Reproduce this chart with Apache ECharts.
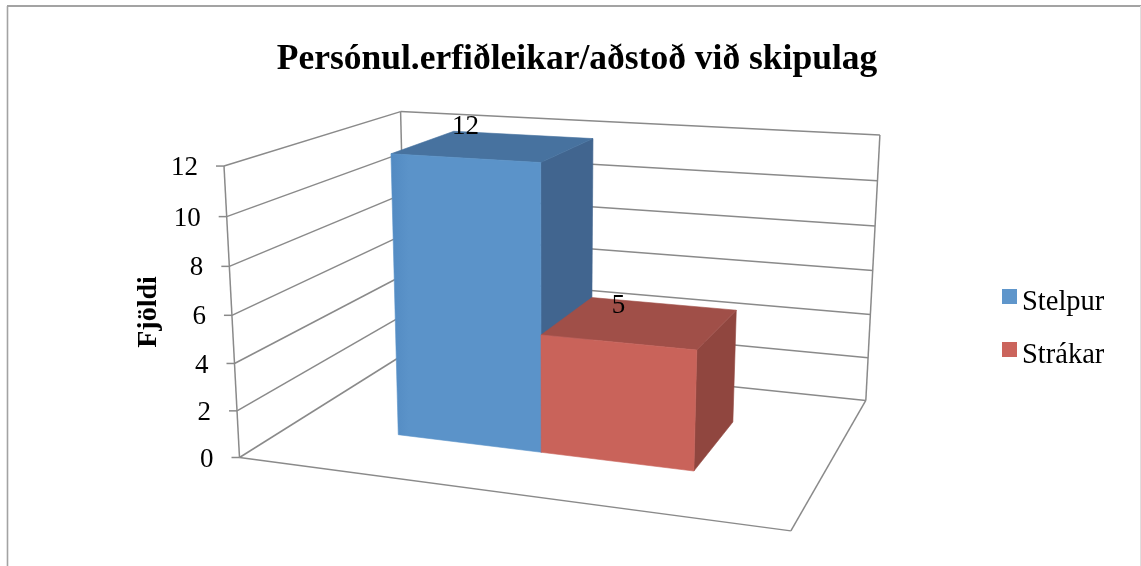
<!DOCTYPE html>
<html>
<head>
<meta charset="utf-8">
<style>html,body{margin:0;padding:0;background:#fff}#c{width:1141px;height:566px}</style>
<script src="https://cdn.jsdelivr.net/npm/echarts@6/dist/echarts.min.js"></script>
</head>
<body>
<div id="c"></div>
<script>
const chartTitle = 'Persónul.erfiðleikar/aðstoð við skipulag';
const yAxisTitle = 'Fjöldi';
const categories = ['Persónul.erfiðleikar/aðstoð við skipulag'];
const seriesNames = ['Stelpur', 'Strákar'];
const stelpur = [12];
const strakar = [5];
const tickValues = [0, 2, 4, 6, 8, 10, 12];

const FONT = '"Liberation Serif", serif';
const TEXT = '#000';
const LINE = '#8a8a8a';
const palette = [
  {front: '#5b93c9', frontDark: '#528ac2', top: '#47729f', side: '#41658f', legend: '#5f96cb'},
  {front: '#c9635a', frontDark: '#c9635a', top: '#a04f48', side: '#90463f', legend: '#cb645c'}
];

// Perspective of the 3D box: x, y, z in 0..1 of the plot box -> screen.
function project(x, y, z) {
  const w = 1 - 0.1163 * x - 0.0473 * y + 0.2193 * z;
  return [
    (239.5 + 459.4 * x - 26.1 * y + 256.1 * z) / w,
    (457.5 + 11.63 * x - 299.3 * y - 27.4 * z) / w
  ];
}
const DEPTH_FRONT = 0.295, DEPTH_BACK = 0.693, BAR_SHARE = 0.2845;
const LABEL_LIFT = [31, 36];

function yShare(api, params, v) {
  const cs = params.coordSys;
  return (cs.y + cs.height - api.coord([0, v])[1]) / cs.height;
}
function seg(a, b) {
  return {type: 'line', silent: true, shape: {x1: a[0], y1: a[1], x2: b[0], y2: b[1]},
    style: {stroke: LINE, lineWidth: 1.5, fill: null}};
}
function poly(points, fill, edge) {
  return {type: 'polygon', silent: true, shape: {points},
    style: {fill, stroke: edge || fill, lineWidth: 0.6}};
}

function renderFrame(params, api) {
  const v = api.value(1);
  const y = yShare(api, params, v);
  const a = project(0, y, 0), b = project(0, y, 1), c = project(1, y, 1);
  const kids = [seg([a[0] - 8, a[1]], a), seg(a, b), seg(b, c)];
  if (params.dataIndex === 0) {
    const y1 = 1;
    kids.push(seg(project(0, 0, 0), project(0, y1, 0)));
    kids.push(seg(project(0, 0, 1), project(0, y1, 1)));
    kids.push(seg(project(1, 0, 1), project(1, y1, 1)));
    kids.push(seg(project(0, 0, 0), project(1, 0, 0)));
    kids.push(seg(project(1, 0, 0), project(1, 0, 1)));
  }
  kids.push({type: 'text', silent: true, style: {
    text: String(v), x: a[0] - 26, y: a[1] + 2, align: 'right', verticalAlign: 'middle',
    fill: TEXT, fontFamily: FONT, fontSize: 27}});
  return {type: 'group', children: kids};
}

function barRenderer(idx) {
  return function (params, api) {
    const cs = params.coordSys;
    const cat = api.value(0), v = api.value(1);
    const cx = (api.coord([cat, 0])[0] - cs.x) / cs.width;
    const x0 = cx + (idx - 1) * BAR_SHARE, x1 = x0 + BAR_SHARE;
    const y = yShare(api, params, v);
    const z0 = DEPTH_FRONT, z1 = DEPTH_BACK;
    const c = palette[idx];
    const p = (a, b, d) => project(a, b, d);
    const label = p((x0 + x1) / 2, y, z0);
    return {type: 'group', children: [
      poly([p(x1, 0, z0), p(x1, 0, z1), p(x1, y, z1), p(x1, y, z0)], c.side),
      poly([p(x0, y, z0), p(x1, y, z0), p(x1, y, z1), p(x0, y, z1)], c.top),
      poly([p(x0, 0, z0), p(x1, 0, z0), p(x1, y, z0), p(x0, y, z0)], {
        type: 'linear', x: 0, y: 0, x2: 1, y2: 0,
        colorStops: [{offset: 0, color: c.frontDark}, {offset: 0.12, color: c.front}, {offset: 1, color: c.front}]
      }, c.front),
      {type: 'text', silent: true, style: {
        text: String(v), x: label[0] + 1, y: label[1] - LABEL_LIFT[idx], align: 'center', verticalAlign: 'middle',
        fill: TEXT, fontFamily: FONT, fontSize: 27}}
    ]};
  };
}

const chart = echarts.init(document.getElementById('c'), null, {renderer: 'canvas'});
chart.setOption({
  animation: false,
  backgroundColor: '#fff',
  title: {
    text: chartTitle, left: 572, top: 37, textAlign: 'center',
    textStyle: {fontFamily: FONT, fontSize: 35.5, fontWeight: 'bold', color: TEXT}
  },
  legend: {
    data: seriesNames, orient: 'vertical', left: 997, top: 283, icon: 'rect',
    itemWidth: 15, itemHeight: 15, itemGap: 24, selectedMode: false,
    formatter: name => '{a|' + name + '}',
    textStyle: {
      fontFamily: FONT, fontSize: 28.5, color: TEXT,
      rich: {a: {fontFamily: FONT, fontSize: 28.5, color: TEXT, padding: [12, 0, 0, 0]}}
    }
  },
  grid: {left: 224, top: 166, width: 640, height: 292},
  xAxis: {type: 'category', data: categories, show: false},
  yAxis: {
    type: 'value', min: 0, max: 12, interval: 2,
    name: yAxisTitle, nameLocation: 'middle', nameGap: 61, nameRotate: 90,
    nameTextStyle: {fontFamily: FONT, fontSize: 28, fontWeight: 'bold', color: TEXT},
    axisLine: {show: false}, axisTick: {show: false}, axisLabel: {show: false}, splitLine: {show: false}
  },
  graphic: [
    {type: 'line', silent: true, shape: {x1: 7.5, y1: 6, x2: 7.5, y2: 566}, style: {stroke: '#a3a3a3', lineWidth: 1.6}},
    {type: 'line', silent: true, shape: {x1: 7, y1: 6, x2: 1141, y2: 6}, style: {stroke: '#a3a3a3', lineWidth: 1.8}},
    {type: 'line', silent: true, shape: {x1: 1140.5, y1: 6, x2: 1140.5, y2: 566}, style: {stroke: '#dedede', lineWidth: 1}}
  ],
  series: [
    {type: 'custom', name: 'frame', coordinateSystem: 'cartesian2d', silent: true, z: 1,
      data: tickValues.map(v => [0, v]), encode: {x: 0, y: 1}, renderItem: renderFrame},
    {type: 'custom', name: seriesNames[0], coordinateSystem: 'cartesian2d', silent: true, z: 2,
      itemStyle: {color: palette[0].legend},
      data: stelpur.map((v, i) => [i, v]), encode: {x: 0, y: 1}, renderItem: barRenderer(0)},
    {type: 'custom', name: seriesNames[1], coordinateSystem: 'cartesian2d', silent: true, z: 3,
      itemStyle: {color: palette[1].legend},
      data: strakar.map((v, i) => [i, v]), encode: {x: 0, y: 1}, renderItem: barRenderer(1)}
  ]
});
</script>
</body>
</html>
